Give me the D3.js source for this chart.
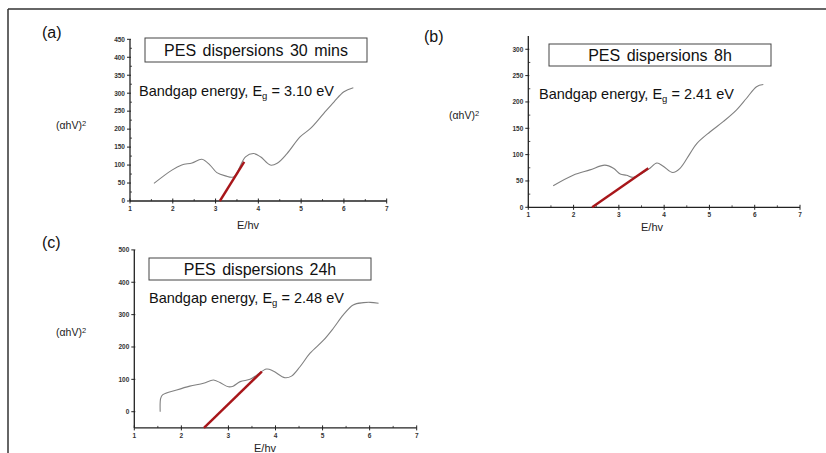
<!DOCTYPE html>
<html>
<head>
<meta charset="utf-8">
<script src="https://cdn.jsdelivr.net/npm/d3@7"></script>
<style>
  body { margin: 0; background: #fff; }
  svg { display: block; font-family: "Liberation Sans", Arial, sans-serif; }
</style>
</head>
<body>
<svg id="chart" width="826" height="453"></svg>
<script>
// panel (a) - 30 mins
const energyA = [1.56, 1.98, 2.21, 2.45, 2.68, 2.87, 3.03, 3.23, 3.42, 3.70, 3.89, 4.05, 4.28, 4.44, 4.67, 4.98, 5.22, 5.53, 5.77, 6.00, 6.22];
const absA    = [49, 86, 100, 106, 116, 100, 79, 70, 67, 123, 132, 123, 100, 105, 132, 179, 202, 244, 276, 304, 315];
const fitA    = [[3.10, 0], [3.67, 109]];

// panel (b) - 8h
const energyB = [1.55, 1.99, 2.36, 2.69, 2.88, 3.03, 3.17, 3.32, 3.65, 3.84, 3.98, 4.19, 4.35, 4.57, 4.72, 5.01, 5.31, 5.60, 5.82, 6.04, 6.19];
const absB    = [41, 61, 71, 80, 74, 63, 61, 57, 72, 84, 78, 66, 74, 102, 121, 143, 163, 185, 207, 229, 233];
const fitB    = [[2.41, 0], [3.65, 74]];

// panel (c) - 24h
const energyC = [1.55, 1.56, 1.60, 1.90, 2.18, 2.47, 2.68, 2.82, 3.00, 3.10, 3.25, 3.46, 3.60, 3.81, 3.95, 4.20, 4.34, 4.52, 4.73, 5.02, 5.23, 5.44, 5.65, 5.87, 6.01, 6.19];
const absC    = [0, 41, 52, 67, 79, 88, 98, 90, 77, 79, 93, 100, 113, 132, 126, 105, 110, 139, 180, 221, 258, 299, 330, 337, 338, 335];
const fitC    = [[2.48, -50], [3.71, 124]];

const xTicks = [1, 2, 3, 4, 5, 6, 7];
const yTicksA = d3.range(0, 451, 50);
const yTicksB = d3.range(0, 301, 50);
const yTicksC = d3.range(0, 501, 100);

const titles = ["PES dispersions 30 mins", "PES dispersions 8h", "PES dispersions 24h"];
const gaps = ["3.10", "2.41", "2.48"];

const svg = d3.select("#chart");

// frame (cropped, only top and left visible)
svg.append("line").attr("x1", 8).attr("y1", 9).attr("x2", 826).attr("y2", 9)
  .attr("stroke", "#333").attr("stroke-width", 1.5);
svg.append("line").attr("x1", 8).attr("y1", 9).attr("x2", 8).attr("y2", 453)
  .attr("stroke", "#333").attr("stroke-width", 1.5);

const panels = [
  { tag: "(a)", tagPos: [42, 38], energy: energyA, abs: absA, fit: fitA,
    xr: [130, 386.7], yd: [0, 450], yr: [201, 39.3], yt: yTicksA, ymin: 25,
    box: [145, 38, 222, 24], gapPos: [139, 96], ylab: [56, 129], xlab: [248, 229] },
  { tag: "(b)", tagPos: [424, 42], energy: energyB, abs: absB, fit: fitB,
    xr: [528.3, 800], yd: [0, 325], yr: [207.3, 36.1], yt: yTicksB, ymin: 25,
    box: [549, 44, 222, 22], gapPos: [539, 99], ylab: [449, 119], xlab: [652, 231] },
  { tag: "(c)", tagPos: [42, 248], energy: energyC, abs: absC, fit: fitC,
    xr: [134.3, 416.7], yd: [-50, 500], yr: [427.9, 249.9], yt: yTicksC, ymin: 50,
    box: [149, 258, 222, 22], gapPos: [149, 303], ylab: [56, 336], xlab: [265, 452] }
];

panels.forEach((p, i) => {
  const g = svg.append("g");
  const x = d3.scaleLinear().domain([1, 7]).range(p.xr);
  const y = d3.scaleLinear().domain(p.yd).range(p.yr);

  // panel tag
  g.append("text").attr("x", p.tagPos[0]).attr("y", p.tagPos[1])
    .style("font-size", "16px").style("fill", "#111").text(p.tag);

  // axis lines
  g.append("line").attr("x1", x(1)).attr("x2", x(1)).attr("y1", y(p.yd[0])).attr("y2", y(p.yd[1]))
    .attr("stroke", "#222").attr("stroke-width", 1.3);
  g.append("line").attr("x1", x(1)).attr("x2", x(7)).attr("y1", y(p.yd[0])).attr("y2", y(p.yd[0]))
    .attr("stroke", "#222").attr("stroke-width", 1.3);

  // x ticks
  xTicks.forEach(t => {
    g.append("line").attr("x1", x(t)).attr("x2", x(t))
      .attr("y1", y(p.yd[0]) - 2.5).attr("y2", y(p.yd[0]) + 2.5)
      .attr("stroke", "#222").attr("stroke-width", 1);
    g.append("text").attr("x", x(t)).attr("y", y(p.yd[0]) + 10)
      .attr("text-anchor", "middle").style("font-size", "6.5px").style("font-weight", "bold")
      .style("fill", "#333").text(t);
  });
  d3.range(1.5, 7, 1).forEach(t => {
    g.append("line").attr("x1", x(t)).attr("x2", x(t))
      .attr("y1", y(p.yd[0]) - 2).attr("y2", y(p.yd[0]))
      .attr("stroke", "#222").attr("stroke-width", 0.8);
  });

  // y ticks
  p.yt.forEach(t => {
    g.append("line").attr("x1", x(1) - 3).attr("x2", x(1) + 1)
      .attr("y1", y(t)).attr("y2", y(t))
      .attr("stroke", "#222").attr("stroke-width", 1);
    g.append("text").attr("x", x(1) - 5).attr("y", y(t) + 2.3)
      .attr("text-anchor", "end").style("font-size", "6.5px").style("font-weight", "bold")
      .style("fill", "#333").text(t);
  });
  d3.range(p.yd[0] + p.ymin, p.yd[1], p.ymin * 2).forEach(t => {
    if (p.yt.indexOf(t) >= 0) return;
    g.append("line").attr("x1", x(1)).attr("x2", x(1) + 2)
      .attr("y1", y(t)).attr("y2", y(t))
      .attr("stroke", "#222").attr("stroke-width", 0.8);
  });

  // axis titles
  g.append("text").attr("x", p.ylab[0]).attr("y", p.ylab[1])
    .style("font-size", "10.5px").style("fill", "#222")
    .html("(αhV)<tspan dy='-3.5' style='font-size:7.5px'>2</tspan>");
  g.append("text").attr("x", p.xlab[0]).attr("y", p.xlab[1])
    .attr("text-anchor", "middle").style("font-size", "11px").style("fill", "#222").text("E/hv");

  // data curve
  const pts = p.energy.map((e, k) => [e, p.abs[k]]);
  g.append("path").datum(pts)
    .attr("d", d3.line().x(d => x(d[0])).y(d => y(d[1])).curve(d3.curveCatmullRom.alpha(0.5)))
    .attr("fill", "none").attr("stroke", "#808080").attr("stroke-width", 1.1);

  // tangent fit line
  g.append("path").datum(p.fit)
    .attr("d", d3.line().x(d => x(d[0])).y(d => y(d[1])))
    .attr("stroke", "#a8161a").attr("stroke-width", 2.4);

  // title box
  g.append("rect").attr("x", p.box[0]).attr("y", p.box[1]).attr("width", p.box[2]).attr("height", p.box[3])
    .attr("fill", "#fff").attr("stroke", "#444").attr("stroke-width", 1);
  g.append("text").attr("x", p.box[0] + p.box[2] / 2).attr("y", p.box[1] + p.box[3] / 2 + 5.5)
    .attr("text-anchor", "middle").style("font-size", "16px").style("word-spacing", "2px")
    .style("fill", "#111").text(titles[i]);

  // bandgap label
  g.append("text").attr("x", p.gapPos[0]).attr("y", p.gapPos[1])
    .style("font-size", "14.5px").style("fill", "#111")
    .html("Bandgap energy, E<tspan dy='3' style='font-size:9.5px'>g</tspan><tspan dy='-3'> = " + gaps[i] + " eV</tspan>");
});
</script>
</body>
</html>
